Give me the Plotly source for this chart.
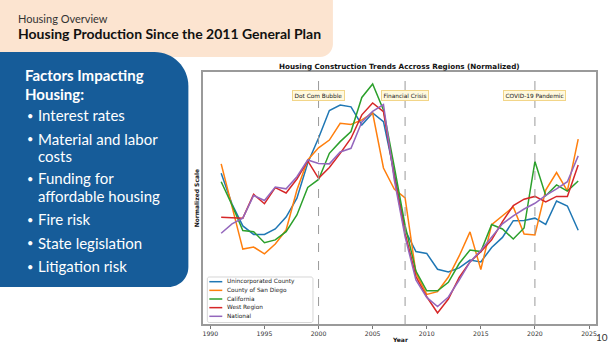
import plotly.graph_objects as go

# ---- data -------------------------------------------------------------
years = list(range(1991, 2025))

unincorporated_county = [0.610, 0.476, 0.380, 0.343, 0.343, 0.367, 0.419, 0.501, 0.655, 0.764,
                         0.884, 0.908, 0.900, 0.821, 0.873, 0.835, 0.611, 0.362, 0.268, 0.260,
                         0.191, 0.179, 0.197, 0.231, 0.223, 0.286, 0.330, 0.403, 0.404, 0.414,
                         0.387, 0.489, 0.467, 0.361]
county_of_san_diego = [0.651, 0.459, 0.279, 0.288, 0.258, 0.301, 0.362, 0.537, 0.668, 0.721,
                       0.755, 0.828, 0.823, 0.843, 0.873, 0.633, 0.541, 0.502, 0.175, 0.081,
                       0.093, 0.157, 0.249, 0.354, 0.190, 0.386, 0.424, 0.463, 0.345, 0.341,
                       0.537, 0.613, 0.533, 0.759]
california = [0.573, 0.472, 0.360, 0.355, 0.307, 0.319, 0.355, 0.428, 0.548, 0.583,
              0.697, 0.748, 0.792, 0.941, 1.000, 0.886, 0.639, 0.382, 0.183, 0.097,
              0.097, 0.134, 0.216, 0.275, 0.268, 0.386, 0.367, 0.323, 0.371, 0.661,
              0.512, 0.559, 0.532, 0.576]
west_region = [0.418, 0.415, 0.414, 0.518, 0.477, 0.547, 0.524, 0.585, 0.664, 0.588,
               0.635, 0.697, 0.763, 0.865, 0.917, 0.879, 0.595, 0.348, 0.159, 0.071,
               0.000, 0.061, 0.155, 0.223, 0.268, 0.319, 0.399, 0.469, 0.497, 0.509,
               0.485, 0.509, 0.509, 0.646]
national = [0.348, 0.389, 0.414, 0.513, 0.491, 0.550, 0.542, 0.595, 0.668, 0.653,
            0.651, 0.703, 0.719, 0.834, 0.880, 0.910, 0.581, 0.333, 0.144, 0.068,
            0.028, 0.070, 0.144, 0.223, 0.273, 0.332, 0.389, 0.424, 0.454, 0.479,
            0.513, 0.542, 0.573, 0.686]

series_names = ["Unincorporated County", "County of San Diego", "California",
                "West Region", "National"]
series_values = [unincorporated_county, county_of_san_diego, california,
                 west_region, national]
series_colors = ["#1f77b4", "#ff7f0e", "#2ca02c", "#d62728", "#9467bd"]

event_years = [2000, 2008, 2020]
event_labels = ["Dot Com Bubble", "Financial Crisis", "COVID-19 Pandemic"]

x_ticks = [1990, 1995, 2000, 2005, 2010, 2015, 2020, 2025]

factors_heading = ["Factors Impacting", "Housing:"]
factor_lines = [("•", "Interest rates"), ("•", "Material and labor"), ("", "costs"),
                ("•", "Funding for"), ("", "affordable housing"), ("•", "Fire risk"),
                ("•", "State legislation"), ("•", "Litigation risk")]

# ---- page geometry (pixels) ------------------------------------------
W, H = 609, 347


def px(x):
    return x / W


def py(y):
    return 1 - y / H


def rounded_path(x0, y0, x1, y1, r_tl=0, r_tr=0, r_br=0, r_bl=0):
    """SVG path of a rounded rectangle, given in pixels, expressed in paper units."""
    k = 0.5523

    def P(x, y):
        return f"{px(x):.5f},{py(y):.5f}"

    d = [f"M {P(x0 + r_tl, y0)}", f"L {P(x1 - r_tr, y0)}"]
    if r_tr:
        d.append(f"C {P(x1 - r_tr + k * r_tr, y0)} {P(x1, y0 + r_tr - k * r_tr)} {P(x1, y0 + r_tr)}")
    d.append(f"L {P(x1, y1 - r_br)}")
    if r_br:
        d.append(f"C {P(x1, y1 - r_br + k * r_br)} {P(x1 - r_br + k * r_br, y1)} {P(x1 - r_br, y1)}")
    d.append(f"L {P(x0 + r_bl, y1)}")
    if r_bl:
        d.append(f"C {P(x0 + r_bl - k * r_bl, y1)} {P(x0, y1 - r_bl + k * r_bl)} {P(x0, y1 - r_bl)}")
    d.append(f"L {P(x0, y0 + r_tl)}")
    if r_tl:
        d.append(f"C {P(x0, y0 + r_tl - k * r_tl)} {P(x0 + r_tl - k * r_tl, y0)} {P(x0 + r_tl, y0)}")
    d.append("Z")
    return " ".join(d)


# plot area in pixels
PL, PR, PT, PB = 203, 597, 72, 324

fig = go.Figure()

for name, vals, col in zip(series_names, series_values, series_colors):
    fig.add_trace(go.Scatter(x=years, y=vals, mode="lines", name=name,
                             line=dict(color=col, width=1.5), showlegend=False,
                             hoverinfo="skip"))

shapes = []
annotations = []

# slide header band and side panel
shapes.append(dict(type="path", xref="paper", yref="paper", layer="below",
                   path=rounded_path(-10, -10, 333, 57, r_br=13),
                   fillcolor="#FCE4D0", line=dict(width=0)))
shapes.append(dict(type="path", xref="paper", yref="paper", layer="below",
                   path=rounded_path(-20, 52, 188, 287, r_tr=34, r_br=20),
                   fillcolor="#165C99", line=dict(width=0)))

annotations.append(dict(text="Housing Overview", x=px(15), y=py(18), xref="paper", yref="paper",
                        xanchor="left", yanchor="middle", showarrow=False,
                        font=dict(family="Lato", size=11, color="#333333")))
annotations.append(dict(text="<b>Housing Production Since the 2011 General Plan</b>",
                        x=px(15), y=py(34), xref="paper", yref="paper",
                        xanchor="left", yanchor="middle", showarrow=False,
                        font=dict(family="Lato", size=14, color="#111111")))

for i, line in enumerate(factors_heading):
    annotations.append(dict(text=f"<b>{line}</b>", x=px(22), y=py(74.5 + 19.6 * i),
                            xref="paper", yref="paper", xanchor="left", yanchor="middle",
                            showarrow=False, font=dict(family="Lato", size=15, color="white")))

factor_y = [115, 139, 156, 178, 196, 219, 242.5, 266]
for (bullet, text), yy in zip(factor_lines, factor_y):
    if bullet:
        annotations.append(dict(text=bullet, x=px(24), y=py(yy), xref="paper", yref="paper",
                                xanchor="left", yanchor="middle", showarrow=False,
                                font=dict(family="Lato", size=11, color="white")))
    annotations.append(dict(text=text, x=px(35), y=py(yy), xref="paper", yref="paper",
                            xanchor="left", yanchor="middle", showarrow=False,
                            font=dict(family="Lato", size=15, color="white")))

# chart title and axis titles
annotations.append(dict(text="<b>Housing Construction Trends Accross Regions (Normalized)</b>",
                        x=px(400), y=py(66.5), xref="paper", yref="paper",
                        xanchor="center", yanchor="middle", showarrow=False,
                        font=dict(family="DejaVu Sans", size=7.2, color="#111111")))
annotations.append(dict(text="<b>Year</b>", x=px(400), y=py(339.5), xref="paper", yref="paper",
                        xanchor="center", yanchor="middle", showarrow=False,
                        font=dict(family="DejaVu Sans", size=6, color="#111111")))
annotations.append(dict(text="<b>Normalized Scale</b>", x=px(196), y=py(198), xref="paper",
                        yref="paper", xanchor="center", yanchor="middle", showarrow=False,
                        textangle=-90,
                        font=dict(family="DejaVu Sans", size=6, color="#111111")))

# event markers
for yr, lab in zip(event_years, event_labels):
    shapes.append(dict(type="line", xref="x", yref="y domain", x0=yr, x1=yr, y0=0, y1=1,
                       line=dict(color="#9a9a9a", width=1, dash="dash")))
    annotations.append(dict(text=lab, x=yr, y=(PB - 96) / (PB - PT), xref="x", yref="y domain",
                            xanchor="center", yanchor="middle", showarrow=False,
                            bgcolor="#FFF9DE", bordercolor="#F2D588", borderwidth=1, borderpad=1.5,
                            font=dict(family="DejaVu Sans", size=5.8, color="#222222")))

# legend box
LX0, LY0, LX1, LY1 = 207, 277, 313, 322.5
shapes.append(dict(type="path", xref="paper", yref="paper",
                   path=rounded_path(LX0, LY0, LX1, LY1, 2, 2, 2, 2),
                   fillcolor="rgba(255,255,255,0.85)", line=dict(color="#d6d6d6", width=1)))
for i, (name, col) in enumerate(zip(series_names, series_colors)):
    yy = 281.7 + 8.65 * i
    shapes.append(dict(type="line", xref="paper", yref="paper",
                       x0=px(209), x1=px(222), y0=py(yy), y1=py(yy),
                       line=dict(color=col, width=1.5)))
    annotations.append(dict(text=name, x=px(225), y=py(yy), xref="paper", yref="paper",
                            xanchor="left", yanchor="middle", showarrow=False,
                            font=dict(family="DejaVu Sans", size=5.8, color="#222222")))

# page number
annotations.append(dict(text="10", x=px(603), y=py(337), xref="paper", yref="paper",
                        xanchor="center", yanchor="middle", showarrow=False,
                        font=dict(family="Lato", size=10, color="#333333")))

fig.update_layout(
    width=W, height=H,
    margin=dict(l=0, r=0, t=0, b=0),
    paper_bgcolor="white", plot_bgcolor="white",
    shapes=shapes, annotations=annotations,
    showlegend=False,
    xaxis=dict(domain=[px(PL), px(PR)], range=[1989.35, 2025.65],
               tickmode="array", tickvals=x_ticks, ticktext=[str(t) for t in x_ticks],
               ticks="outside", ticklen=3, tickcolor="#777777", tickwidth=1,
               tickfont=dict(family="DejaVu Sans", size=6.2, color="#333333"),
               showgrid=False, zeroline=False,
               showline=True, mirror=True, linecolor="#9a9a9a", linewidth=1.5),
    yaxis=dict(domain=[py(PB), py(PT)], range=[-0.048, 1.052],
               showticklabels=False, ticks="", showgrid=False, zeroline=False,
               showline=True, mirror=True, linecolor="#9a9a9a", linewidth=1.5),
)

fig.write_html("out.html")
